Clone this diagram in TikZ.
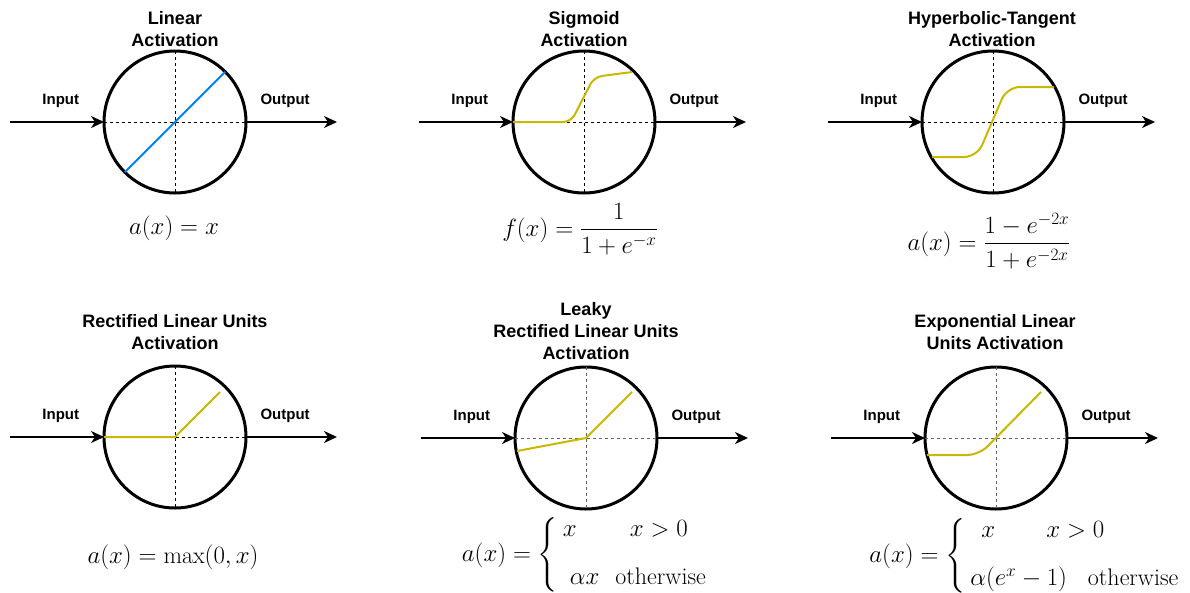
\documentclass[tikz,border=0pt]{standalone}
\usepackage{amsmath}
\usepackage{fontspec}
\newfontfamily\labelfont{Liberation Sans}
\usetikzlibrary{arrows.meta}

\definecolor{actyellow}{RGB}{200,184,0}
\definecolor{actblue}{RGB}{0,127,255}
\definecolor{axisgray}{RGB}{100,100,100}

\begin{document}
\begin{tikzpicture}[x=1pt, y=-1pt,
  neuron/.style={draw, circle, line width=3pt, minimum size=142pt, inner sep=0pt, outer sep=0pt},
  axisline/.style={dash pattern=on 3pt off 3pt, line width=1pt},
  flow/.style={-{Stealth[length=13pt,width=12pt,inset=4pt]}, line width=2pt},
  iolabel/.style={font=\labelfont\bfseries\fontsize{15}{18}\selectfont, anchor=base, inner sep=0pt},
  title/.style={font=\labelfont\bfseries\fontsize{18}{22}\selectfont, align=center, anchor=south, inner sep=0pt},
  formula/.style={font=\fontsize{24}{29}\selectfont, inner sep=0pt},
  curve/.style={line width=2pt, actyellow, rounded corners=8pt}]
  \useasboundingbox (0,0) rectangle (1190,592);

  % neuron, axes, input and output for every panel
  \foreach \n/\cx/\cy/\ax in {1/175/122/black, 2/584/122/black, 3/993/122/black,
                              4/175/437/black, 5/586/438/axisgray, 6/996/438/axisgray}{
    \node[neuron] (c\n) at (\cx,\cy) {};
    \coordinate (in\n) at (\cx-165,\cy);
    \coordinate (out\n) at (\cx+162,\cy);
    \draw[axisline,\ax] (c\n.west) -- (c\n.east);
    \draw[axisline,\ax] (c\n.north) -- (c\n.south);
    \draw[flow] (in\n) -- node[iolabel,pos=.54,yshift=18pt] (il\n) {Input} (c\n.west);
    \draw[flow] (c\n.east) -- node[iolabel,pos=.43,yshift=18pt] (ol\n) {Output} (out\n);
  }

  % titles
  \node[title] (t1) at (175,47) {Linear\\Activation};
  \node[title] (t2) at (584,47) {Sigmoid\\Activation};
  \node[title] (t3) at (992,47) {Hyperbolic-Tangent\\Activation};
  \node[title] (t4) at (175,350) {Rectified Linear Units\\Activation};
  \node[title] (t5) at (586,360) {Leaky\\Rectified Linear Units\\Activation};
  \node[title] (t6) at (995,350) {Exponential Linear\\Units Activation};

  % activation curves
  \draw[actblue, line width=2pt] (c1.225) -- (c1.45);
  \draw[curve] (c2.west) -- (571,122) -- (594,77) -- (632,72);
  \draw[curve, rounded corners=13pt] (932,157) -- (977,157) -- (1007,87) -- (1054,87);
  \draw[curve, sharp corners] (c4.west) -- (c4.center) -- (220,392);
  \draw[curve, sharp corners] (517,451) -- (c5.center) -- (632,392);
  \draw[curve, rounded corners=12pt] (927,455) -- (979,455) -- (1041,392);

  % formulas
  \node[formula] (f1) at (174,228) {$a(x) = x$};
  \node[formula] (f2) at (580,229) {$\displaystyle f(x) = \frac{1}{1+e^{-x}}$};
  \node[formula] (f3) at (989,241) {$\displaystyle a(x) = \frac{1-e^{-2x}}{1+e^{-2x}}$};
  \node[formula] (f4) at (173,557) {$a(x) = \max(0,x)$};
  \node[formula] (f5) at (587,555) {$a(x) = \left\{\begin{array}{l}
      x\hspace{53pt}x>0 \\[19pt]
      \hspace{7pt}\alpha x\hspace{16pt}\text{otherwise}\end{array}\right.$};
  \node[formula] (f6) at (1027,556) {$a(x) = \left\{\begin{array}{l}
      \hspace{11pt}x\hspace{51pt}x>0 \\[19pt]
      \alpha(e^x-1)\hspace{21pt}\text{otherwise}\end{array}\right.$};
\end{tikzpicture}
\end{document}
